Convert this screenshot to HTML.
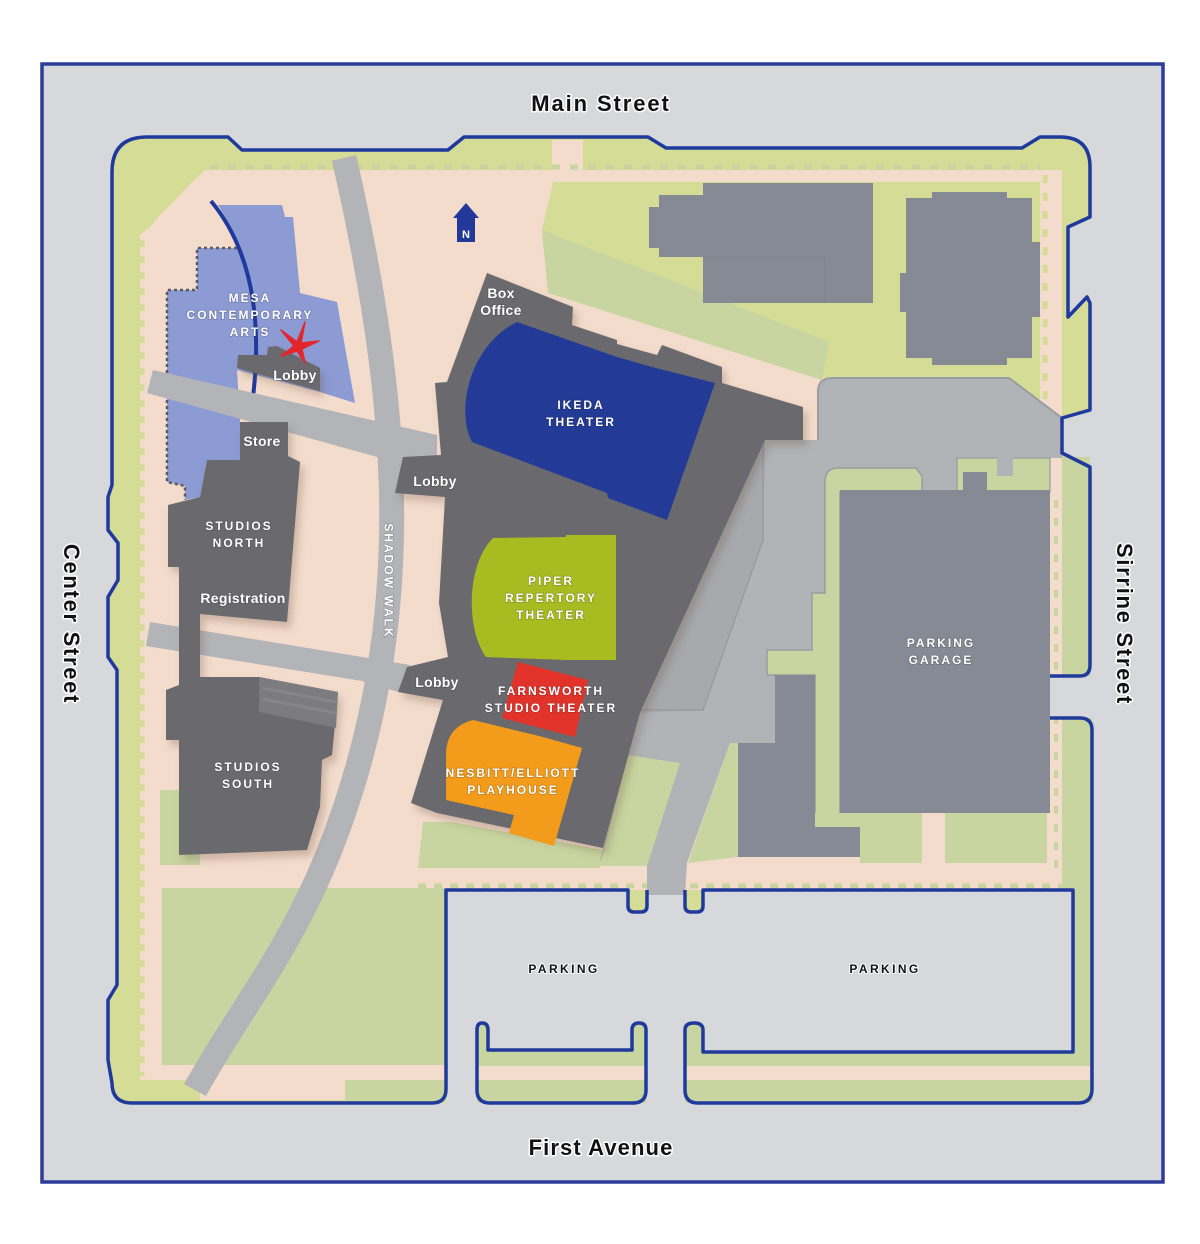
<!DOCTYPE html>
<html><head><meta charset="utf-8"><style>
html,body{margin:0;padding:0;background:#fff;}
svg{display:block;}
</style></head><body>
<svg width="1200" height="1244" viewBox="0 0 1200 1244" xmlns="http://www.w3.org/2000/svg">
<defs>
<filter id="sh" x="-20%" y="-20%" width="140%" height="140%"><feDropShadow dx="4" dy="6" stdDeviation="4" flood-color="#6a4a3a" flood-opacity="0.28"/></filter>
</defs>
<rect width="1200" height="1244" fill="#fff"/>
<rect x="42" y="64" width="1121" height="1118" fill="#d7d8dc" stroke="#2b3d99" stroke-width="3.5"/>

<!-- site envelope -->
<path d="M112,172 Q112,137 147,137 H228 L242,150 H448 L464,137 H648 L666,148 H1022 L1040,137 H1060 Q1090,137 1090,167 V217 L1068,227 V317 L1087,297 L1090,303 V410 L1062,418 V453 L1090,467 V665 Q1090,676 1080,676 H1050 V718 H1080 Q1092,718 1092,730 V1089 Q1092,1103 1078,1103 H132 Q112,1103 112,1083 L108,1060 V1000 L117,985 V670 L108,657 V597 L118,580 V543 L108,530 V497 L112,485 Z" fill="#d5dc95"/>

<!-- parking lots -->
<path d="M446,890 H628 V912 H647 V890 H685 V912 H703 V890 H1073 V1052 H703 V1023 H685 V1106 H646 V1023 H632 V1050 H488 V1023 H477 V1106 H446 Z" fill="#d7d8dc"/>

<!-- peach base -->
<path d="M150,227 L160,215 L170,205 L180,195 L192,182 L205,170 H1062 V890 H446 V1080 H140 V235 Z" fill="#f3dccc"/>
<rect x="552" y="140" width="31" height="32" fill="#f3dccc"/>
<rect x="200" y="1080" width="145" height="20" fill="#f3dccc"/>
<rect x="345" y="1080" width="99" height="21" fill="#c8d5a0"/>

<!-- islands -->
<path d="M477,1023 H488 V1050 H632 V1023 H646 V1103 H477 Z" fill="#c8d5a0"/>
<rect x="477" y="1066" width="169" height="14" fill="#f3dccc"/>
<path d="M685,1023 H703 V1052 H1073 V890 H1062 V718 H1092 V1103 H685 Z" fill="#c8d5a0"/>
<rect x="685" y="1066" width="405" height="14" fill="#f3dccc"/>
<rect x="1050" y="718" width="12" height="172" fill="#f3dccc"/>
<rect x="1062" y="457" width="28" height="219" fill="#c8d5a0"/>

<!-- crenellations -->
<line x1="142" y1="240" x2="142" y2="1076" stroke="#d5dc95" stroke-width="5" stroke-dasharray="7 9"/>
<line x1="210" y1="167" x2="1040" y2="167" stroke="#c8d5a0" stroke-width="5" stroke-dasharray="8 10"/>
<line x1="1045" y1="175" x2="1045" y2="400" stroke="#d5dc95" stroke-width="5" stroke-dasharray="8 10"/>
<line x1="1056" y1="500" x2="1056" y2="870" stroke="#c8d5a0" stroke-width="4" stroke-dasharray="8 10"/>

<!-- lawns -->
<path d="M553,182 H1040 V401 L1009,378 H826 L548,293 L542,230 Z" fill="#d5dc95"/>
<path d="M542,230 L829,342 L822,380 L548,293 Z" fill="#c8d5a0"/>
<rect x="162" y="888" width="284" height="177" fill="#c8d5a0"/>
<rect x="160" y="790" width="40" height="75" fill="#c8d5a0"/>
<path d="M418,868 L423,822 H452 L603,850 L600,868 Z" fill="#c8d5a0"/>
<line x1="418" y1="886" x2="1073" y2="886" stroke="#c8d5a0" stroke-width="5" stroke-dasharray="8 8"/>

<!-- driveway -->
<path d="M765,440 H818 V392 Q818,378 832,378 H1009 L1062,418 V458 H957 V492 H825 V593 H812 V650 H767 V675 H775 V743 H730 L687,863 L685,895 H647 V863 L600,860 L640,713 Z" fill="#b1b3b7"/>
<path d="M765,440 L763,540 L703,710 L641,713 Z" fill="#a7a9ad"/>
<path d="M763,440 V540 L703,710 H636" fill="none" stroke="#999ba0" stroke-width="1.5"/>
<path d="M818,440 V392 Q818,378 832,378 H1009 L1062,418" fill="none" stroke="#9a9ca0" stroke-width="2"/>
<path d="M600,866 L628,755 L680,763 L647,866 Z" fill="#c8d5a0"/>
<path d="M730,743 H738 V857 L688,863 Z" fill="#c8d5a0"/>
<path d="M838,468 H916 L922,476 V492 H840 V827 H815 V675 H767 V650 H812 V593 H825 V482 Q825,468 838,468 Z" fill="#c8d5a0" stroke="#9a9ca0" stroke-width="1.5"/>
<rect x="957" y="458" width="93" height="34" fill="#c8d5a0" stroke="#9a9ca0" stroke-width="1.2"/>
<rect x="997" y="456" width="16" height="20" fill="#b1b3b7"/>
<rect x="815" y="813" width="45" height="14" fill="#c8d5a0"/>
<rect x="860" y="813" width="62" height="50" fill="#c8d5a0"/>
<rect x="945" y="813" width="102" height="50" fill="#c8d5a0"/>

<!-- blue-gray buildings -->
<g fill="#868a94">
<rect x="840" y="490" width="210" height="323"/>
<rect x="963" y="472" width="24" height="20"/>
<path d="M775,675 H815 V827 H860 V857 H738 V743 H775 Z"/>
<path d="M703,183 H873 V303 H703 V257 H659 V248 H649 V207 H659 V195 H703 Z"/>
<path d="M906,198 H932 V192 H1007 V198 H1032 V242 H1040 V317 H1032 V358 H1007 V365 H932 V358 H906 V312 H900 V273 H906 Z"/>
</g>
<path d="M703,258 H825 V303" fill="none" stroke="#7d818b" stroke-width="1"/>

<!-- Mesa lavender -->
<path d="M218,205 H282 L285,217 H293 L300,293 L337,302 L355,403 L320,392 L237,370 L240,420 V460 H207 L200,497 L185,500 V486 L167,482 V290 H197 V248 H239 L230,225 Z" fill="#8c9bd3"/>
<path d="M237,248 H197 V290 H167 V482 L185,486 V500" fill="none" stroke="#5a5a60" stroke-width="2.5" stroke-dasharray="3 3"/>
<path d="M211,201 Q268,270 253,397" fill="none" stroke="#1f3a9c" stroke-width="4"/>

<!-- walkways -->
<g fill="#b2b4b8">
<path d="M153,370 L437,435 V460 L377,457 L147,393 Z"/>
<path d="M150,622 L362,657 L410,665 L402,693 L362,681 L146,646 Z"/>
</g>
<path d="M344,158 C395,380 410,560 365,740 S250,990 195,1090" fill="none" stroke="#b2b4b8" stroke-width="25"/>

<!-- dark buildings -->
<g fill="#6b6b6e" filter="url(#sh)">
<path d="M487,273 L573,307 L572,325 L617,340 L617,344 L657,355 L662,345 L722,367 L722,383 L803,407 L803,440 L765,440 L640,713 L603,848 L437,813 L411,803 L443,700 L398,692 L407,667 L448,657 L439,603 L445,497 L395,493 L403,457 L441,455 L435,383 L447,382 Z"/>
<path d="M207,460 H240 V422 H288 V456 L300,462 L287,622 L200,614 V610 H179 V567 H168 V505 L200,497 Z"/>
<rect x="179" y="600" width="21" height="90"/>
<path d="M166,690 L200,677 H259 L338,692 L332,755 L322,760 L320,807 L307,850 L179,855 V740 H166 Z"/>
<path d="M238,355 H267 L268,347 L277,346 L320,368 V391 L237,368 Z"/>
</g>
<path d="M259,677 L338,692 L336,728 L259,712 Z" fill="#7c7c7f"/>
<path d="M262,688 L336,702 M262,699 L336,713" stroke="#86868a" stroke-width="3"/>

<!-- theaters -->
<path d="M517,322 L617,357 L652,367 L715,383 L667,520 L608,498 L607,493 L472,442 C455,410 470,345 517,322 Z" fill="#233a96"/>
<path d="M493,538 L566,537 L566,535 H616 V660 H566 L486,657 C466,630 466,565 493,538 Z" fill="#a8bc22"/>
<path d="M518,662 L588,680 L575,737 L502,718 Z" fill="#e2332a"/>
<path d="M473,720 L543,737 L582,748 L554,846 L509,833 L514,815 L446,800 V755 Q446,727 473,720 Z" fill="#f39c1b"/>

<!-- star & north arrow -->
<path d="M305,322 L301,343 L319,341 L302,349 L305,363 L297,351 L281,356 L294,346 L281,330 L297,342 Z" fill="#e3262d" stroke="#e3262d" stroke-width="1.5" stroke-linejoin="round"/>
<path d="M466,203 L479,218 H475 V242 H457 V218 H453 Z" fill="#23399a"/>
<text x="466" y="238" font-family="'Liberation Sans', sans-serif" font-weight="bold" font-size="11" fill="#fff" text-anchor="middle">N</text>

<!-- gap to Sirrine -->
<rect x="1050" y="677" width="45" height="40" fill="#d7d8dc"/>

<!-- site outlines -->
<g fill="none" stroke="#1f3a9c" stroke-width="3.5" stroke-linejoin="round">
<path d="M1050,676 H1080 Q1090,676 1090,665 V467 L1062,453 V418 L1090,410 V303 L1087,297 L1068,317 V227 L1090,217 V167 Q1090,137 1060,137 H1040 L1022,148 H666 L648,137 H464 L448,150 H242 L228,137 H147 Q112,137 112,172 V485 L108,497 V530 L118,543 V580 L108,597 V657 L117,670 V985 L108,1000 V1060 L112,1083 Q112,1103 132,1103 H432 Q446,1103 446,1089 V890 H628 V906 Q628,912 634,912 H641 Q647,912 647,906 V890"/>
<path d="M685,890 V906 Q685,912 691,912 H697 Q703,912 703,906 V890 H1073 V1052 H703 V1030 Q703,1023 694,1023 Q685,1023 685,1030 V1090 Q685,1103 698,1103 H1078 Q1092,1103 1092,1089 V730 Q1092,718 1080,718 H1050"/>
<path d="M477,1030 Q477,1023 482,1023 Q488,1023 488,1030 V1050 H632 V1030 Q632,1023 639,1023 Q646,1023 646,1030 V1090 Q646,1103 633,1103 H490 Q477,1103 477,1090 Z"/>
</g>

<!-- white labels -->
<g font-family="'Liberation Sans', Arial, sans-serif" font-weight="bold" fill="#fff" text-anchor="middle" stroke="rgba(40,40,40,0.25)" stroke-width="1.5" paint-order="stroke">
<g font-size="12" letter-spacing="2">
<text x="250" y="302">MESA</text>
<text x="250" y="319">CONTEMPORARY</text>
<text x="250" y="336">ARTS</text>
<text x="581" y="409">IKEDA</text>
<text x="581" y="426">THEATER</text>
<text x="239" y="530">STUDIOS</text>
<text x="239" y="547">NORTH</text>
<text x="551" y="585">PIPER</text>
<text x="551" y="602">REPERTORY</text>
<text x="551" y="619">THEATER</text>
<text x="551" y="695">FARNSWORTH</text>
<text x="551" y="712">STUDIO THEATER</text>
<text x="248" y="771">STUDIOS</text>
<text x="248" y="788">SOUTH</text>
<text x="513" y="777">NESBITT/ELLIOTT</text>
<text x="513" y="794">PLAYHOUSE</text>
<text x="941" y="647">PARKING</text>
<text x="941" y="664">GARAGE</text>
<text transform="translate(389,581) rotate(90)" y="4.3">SHADOW WALK</text>
</g>
<g font-size="14" letter-spacing="0.3">
<text x="295" y="380">Lobby</text>
<text x="262" y="446">Store</text>
<text x="501" y="298">Box</text>
<text x="501" y="315">Office</text>
<text x="435" y="486">Lobby</text>
<text x="243" y="603">Registration</text>
<text x="437" y="687">Lobby</text>
</g>
</g>

<!-- black labels -->
<g font-family="'Liberation Sans', Arial, sans-serif" font-weight="bold" fill="#111" text-anchor="middle" stroke="#fff" stroke-width="3" paint-order="stroke" stroke-linejoin="round">
<text x="564" y="973" font-size="12" letter-spacing="2.4" stroke-width="2">PARKING</text>
<text x="885" y="973" font-size="12" letter-spacing="2.4" stroke-width="2">PARKING</text>
<text x="601" y="111" font-size="22" letter-spacing="1.9">Main Street</text>
<text x="601" y="1155" font-size="22" letter-spacing="1.1">First Avenue</text>
<text transform="translate(72,624) rotate(90)" y="8" font-size="22" letter-spacing="1.7">Center Street</text>
<text transform="translate(1125,624) rotate(90)" y="8" font-size="22" letter-spacing="1.7">Sirrine Street</text>
</g>
</svg>
</body></html>
